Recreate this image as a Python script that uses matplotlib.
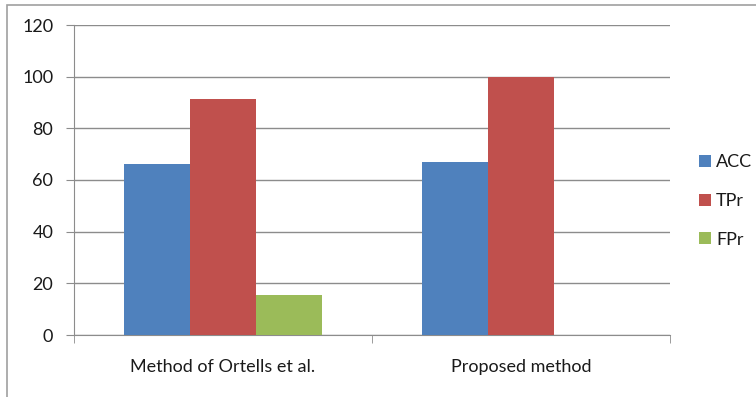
import matplotlib.pyplot as plt
import matplotlib.patches as mpatches
import numpy as np

methods = ["Method of Ortells et al.", "Proposed method"]
series = ["ACC", "TPr", "FPr"]
acc = [66.2, 67.0]
tpr = [91.2, 100.0]
fpr = [15.4, 0.0]
colors = ["#4F81BD", "#C0504D", "#9BBB59"]

plt.rcParams["font.family"] = ["Lato", "DejaVu Sans"]

fig = plt.figure(figsize=(7.56, 3.97), dpi=100)
ax = fig.add_axes([74 / 756, 1 - 335 / 397, (670 - 74) / 756, (335 - 25) / 397])

# chart frame (left and top edges visible)
fig.patches.append(mpatches.Rectangle((7 / 756, -0.1), 1.2, 1 - 5 / 397 + 0.1,
                                      transform=fig.transFigure, fill=False,
                                      edgecolor="#A0A0A0", lw=1.2))

x = np.arange(len(methods))
w = 0.222
for i, (vals, c) in enumerate(zip([acc, tpr, fpr], colors)):
    ax.bar(x + (i - 1) * w, vals, width=w, color=c, label=series[i], zorder=3)

ax.set_xlim(-0.5, 1.5)
ax.set_ylim(0, 120)
ax.set_yticks(range(0, 121, 20))
ax.yaxis.grid(True, color="#8C8C8C", lw=1)
ax.set_axisbelow(True)

ax.set_xticks(x)
ax.set_xticklabels(methods)
ax.set_xticks([-0.5, 0.5, 1.5], minor=True)
ax.tick_params(axis="x", which="major", length=0, pad=17, labelsize=13, labelcolor="#1A1A1A")
ax.tick_params(axis="x", which="minor", length=6, color="#8C8C8C", direction="out")
ax.tick_params(axis="y", length=6, color="#8C8C8C", pad=9, labelsize=13, labelcolor="#1A1A1A")

for s in ["top", "right"]:
    ax.spines[s].set_visible(False)
for s in ["left", "bottom"]:
    ax.spines[s].set_color("#8C8C8C")

leg = fig.legend(loc="center left", bbox_to_anchor=(699 / 756, 1 - 201 / 397), frameon=False,
                 fontsize=13, handlelength=0.65, handleheight=0.65,
                 handletextpad=0.3, labelspacing=1.25, borderpad=0, borderaxespad=0)
for t in leg.get_texts():
    t.set_color("#1A1A1A")

fig.savefig("out.png", dpi=100)
